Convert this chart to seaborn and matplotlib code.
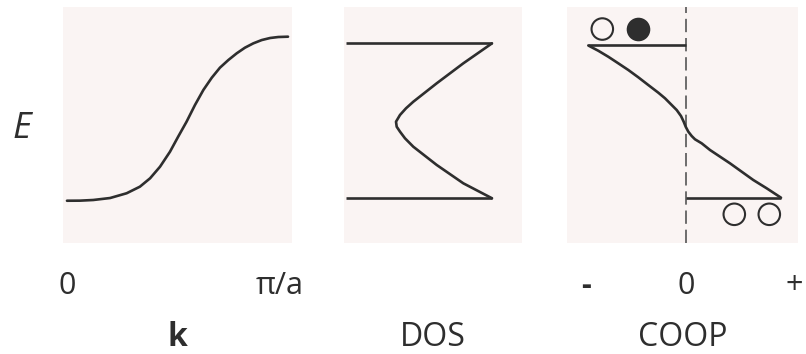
import matplotlib
matplotlib.use("Agg")
import matplotlib.pyplot as plt
import matplotlib.transforms as mtransforms
import seaborn as sns
import pandas as pd

# Band dispersion E(k), k in units of pi/a
band_k = [0.000, 0.059, 0.119, 0.195, 0.270, 0.330, 0.376, 0.421, 0.466,
          0.503, 0.541, 0.579, 0.617, 0.655, 0.692, 0.730, 0.768, 0.805,
          0.843, 0.881, 0.919, 0.956, 1.000]
band_E = [-1.000, -0.999, -0.991, -0.967, -0.909, -0.829, -0.727, -0.586,
          -0.404, -0.221, -0.039, 0.164, 0.347, 0.496, 0.618, 0.711, 0.793,
          0.861, 0.914, 0.954, 0.979, 0.991, 0.995]

# Density of states (arbitrary units)
dos_val = [1.46, 1.173, 0.907, 0.673, 0.600, 0.540, 0.500, 0.507, 0.540,
           0.590, 0.673, 0.907, 1.173, 1.46]
dos_E = [0.914, 0.671, 0.428, 0.204, 0.124, 0.043, -0.039, -0.100, -0.160,
         -0.241, -0.343, -0.565, -0.788, -0.970]

# Crystal orbital overlap population (arbitrary units)
coop_val = [-0.974, -0.874, -0.774, -0.674, -0.574, -0.474, -0.374, -0.274,
            -0.207, -0.140, -0.090, -0.047, -0.020, 0.000, 0.026, 0.060,
            0.093, 0.160, 0.243, 0.343, 0.443, 0.560, 0.676, 0.810, 0.953]
coop_E = [0.888, 0.824, 0.751, 0.671, 0.590, 0.501, 0.407, 0.314, 0.246,
          0.164, 0.103, 0.030, -0.039, -0.100, -0.160, -0.213, -0.253,
          -0.302, -0.383, -0.464, -0.545, -0.647, -0.748, -0.849, -0.963]

# Orbital-occupation symbols next to the band edges
orb_x = [-0.834, -0.480, 0.486, 0.836]
orb_E = [1.088, 1.088, -1.165, -1.165]
orb_filled = [False, True, False, False]

k_ticks = [0, 1]
k_ticklabels = ["0", "\u03c0/a"]
coop_ticks = [-1.0, 0.0, 1.09]
coop_ticklabels = ["-", "0", "+"]

sns.set_theme(style="white")
plt.rcParams["font.family"] = ["Open Sans", "DejaVu Sans"]

ink = "#2e2e2e"
panel_bg = "#faf4f3"
tick_fs = 22
label_fs = 23
lw = 1.9

fig = plt.figure(figsize=(8.06, 3.54), dpi=100)
W, H = 806, 354


def add_panel(x0, x1, y0=7, y1=243):
    return fig.add_axes([x0 / W, 1 - y1 / H, (x1 - x0) / W, (y1 - y0) / H])


ax1 = add_panel(63, 292)
ax2 = add_panel(344, 522)
ax3 = add_panel(567, 798)

ylim = (-1.514, 1.356)

for ax in (ax1, ax2, ax3):
    ax.set_facecolor(panel_bg)
    for s in ax.spines.values():
        s.set_visible(False)
    ax.set_ylim(*ylim)
    ax.set_yticks([])
    ax.tick_params(axis="x", length=0, pad=20.5, labelsize=tick_fs,
                   labelcolor=ink)

# Band structure
band_df = pd.DataFrame({"k": band_k, "E": band_E})
sns.lineplot(data=band_df, x="k", y="E", ax=ax1, color=ink, lw=lw,
             sort=False, estimator=None)
ax1.set_xlim(-0.018, 1.018)
ax1.set_xticks(k_ticks)
ax1.set_xticklabels(k_ticklabels)
shift = mtransforms.ScaledTranslation(-8 / 100, 0, fig.dpi_scale_trans)
lab = ax1.get_xticklabels()[1]
lab.set_transform(lab.get_transform() + shift)

# DOS with band-edge lines
dos_df = pd.DataFrame({"D": dos_val, "E": dos_E})
sns.lineplot(data=dos_df, x="D", y="E", ax=ax2, color=ink, lw=lw,
             sort=False, estimator=None)
for i in (0, -1):
    ax2.plot([0, dos_val[i]], [dos_E[i], dos_E[i]], color=ink, lw=lw,
             solid_capstyle="butt")
ax2.set_xlim(-0.02, 1.76)
ax2.set_xticks([])

# COOP
coop_df = pd.DataFrame({"C": coop_val, "E": coop_E})
ax3.axvline(0, color="#555555", lw=1.2, ls=(0, (8, 3.5)))
sns.lineplot(data=coop_df, x="C", y="E", ax=ax3, color=ink, lw=lw,
             sort=False, estimator=None)
ax3.plot([coop_val[0], 0], [coop_E[0], coop_E[0]], color=ink, lw=lw,
         solid_capstyle="butt")
ax3.plot([0, coop_val[-1]], [coop_E[-1], coop_E[-1]], color=ink, lw=lw,
         solid_capstyle="butt")
orb_df = pd.DataFrame({"x": orb_x, "E": orb_E, "filled": orb_filled})
for filled, grp in orb_df.groupby("filled"):
    sns.scatterplot(data=grp, x="x", y="E", ax=ax3, s=240,
                    facecolor=ink if filled else "none",
                    edgecolor=ink, linewidth=1.5, legend=False)
ax3.set_xlim(-1.187, 1.123)
ax3.set_xticks(coop_ticks)
ax3.set_xticklabels(coop_ticklabels)
ax3.get_xticklabels()[0].set_fontweight("bold")

# Axis titles
for ax, txt, weight in ((ax1, "k", "bold"), (ax2, "DOS", "normal"),
                        (ax3, "COOP", "normal")):
    ax.set_ylabel("")
    ax.set_xlabel(txt, fontsize=label_fs, color=ink, fontweight=weight)
    ax.xaxis.set_label_coords(0.5, -0.436)
    ax.xaxis.label.set_verticalalignment("baseline")

ax1.text(-0.179, 0.483, "E", transform=ax1.transAxes, fontsize=26,
         color=ink, style="italic", ha="center", va="center")

fig.savefig("out.png", dpi=100, facecolor="white")
